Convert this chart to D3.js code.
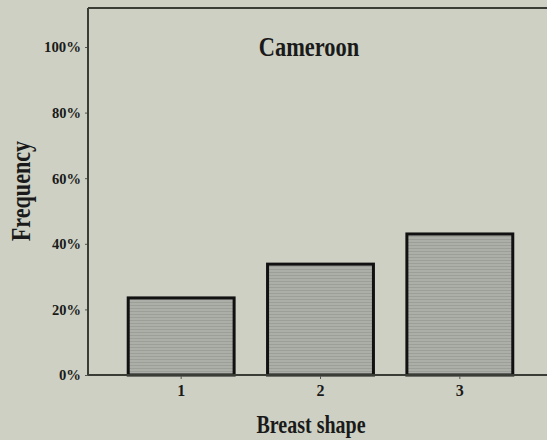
<!DOCTYPE html>
<html>
<head>
<meta charset="utf-8">
<script src="https://cdn.jsdelivr.net/npm/d3@7/dist/d3.min.js"></script>
<style>
  html, body { margin: 0; padding: 0; background: #cdd0c3; }
  svg { display: block; }
  text { font-family: "Liberation Serif", "DejaVu Serif", serif; font-weight: bold; fill: #1a1a1a; }
</style>
</head>
<body>
<svg id="chart" width="547" height="440"></svg>
<script>
// Share of women by breast shape category
const categories = ["1", "2", "3"];
const values = [23.5, 33.8, 43.0];
const yTicks = [0, 20, 40, 60, 80, 100];
const title = "Cameroon";
const xTitle = "Breast shape";
const yTitle = "Frequency";

const W = 547, H = 440;
const plot = { left: 88, top: 8, bottom: 375 };

const svg = d3.select("#chart");

svg.append("rect").attr("width", W).attr("height", H).attr("fill", "#cdd0c3");

// Fine horizontal hatching inside the bars
const defs = svg.append("defs");
const pat = defs.append("pattern")
  .attr("id", "stripes").attr("patternUnits", "userSpaceOnUse")
  .attr("width", 8).attr("height", 3);
pat.append("rect").attr("width", 8).attr("height", 3).attr("fill", "#acaea8");
pat.append("rect").attr("y", 2).attr("width", 8).attr("height", 1).attr("fill", "#9c9e98");

const x = d3.scaleBand()
  .domain(categories)
  .range([111.5, 529.5])
  .paddingInner(0.24)
  .paddingOuter(0.12);

const y = d3.scaleLinear()
  .domain([0, 100])
  .range([plot.bottom, 47]);

// Bars
svg.append("g").selectAll("rect")
  .data(values)
  .join("rect")
  .attr("x", (d, i) => x(categories[i]))
  .attr("y", d => y(d))
  .attr("width", x.bandwidth())
  .attr("height", d => y(0) - y(d))
  .attr("fill", "url(#stripes)")
  .attr("stroke", "#111")
  .attr("stroke-width", 3);

// Top border of the frame
svg.append("line").attr("x1", plot.left).attr("x2", W).attr("y1", plot.top).attr("y2", plot.top)
  .attr("stroke", "#3a3d36").attr("stroke-width", 2);

// Y axis
const yAxis = svg.append("g")
  .attr("transform", `translate(${plot.left},0)`)
  .call(d3.axisLeft(y).tickValues(yTicks).tickFormat(d => d + "%").tickSize(3).tickPadding(4));
yAxis.select(".domain").remove();
yAxis.selectAll(".tick line").attr("stroke", "#555");
yAxis.selectAll(".tick text")
  .attr("font-size", 15)
  .attr("font-family", "Liberation Serif")
  .attr("font-weight", "bold")
  .attr("fill", "#2a2a2a")
  .attr("textLength", d => d === 100 ? 37 : d === 0 ? 22 : 29)
  .attr("lengthAdjust", "spacingAndGlyphs");
svg.append("line").attr("x1", plot.left).attr("x2", plot.left).attr("y1", plot.top).attr("y2", plot.bottom)
  .attr("stroke", "#3a3d36").attr("stroke-width", 2);

// X axis
const xAxis = svg.append("g")
  .attr("transform", `translate(0,${plot.bottom})`)
  .call(d3.axisBottom(x).tickSize(4).tickPadding(6));
xAxis.select(".domain").remove();
xAxis.selectAll(".tick line").attr("stroke", "#555");
xAxis.selectAll(".tick text")
  .attr("font-size", 16)
  .attr("font-family", "Liberation Serif")
  .attr("font-weight", "bold")
  .attr("fill", "#222");
svg.append("line").attr("x1", plot.left).attr("x2", W).attr("y1", plot.bottom).attr("y2", plot.bottom)
  .attr("stroke", "#3a3d36").attr("stroke-width", 2);

// Titles
svg.append("text")
  .attr("transform", "translate(309,56) scale(0.8,1)")
  .attr("text-anchor", "middle")
  .attr("font-size", 28)
  .text(title);

svg.append("text")
  .attr("transform", "translate(311,433) scale(0.8,1)")
  .attr("text-anchor", "middle")
  .attr("font-size", 25)
  .text(xTitle);

svg.append("text")
  .attr("transform", "translate(30,191) rotate(-90) scale(0.82,1)")
  .attr("text-anchor", "middle")
  .attr("font-size", 27)
  .text(yTitle);
</script>
</body>
</html>
